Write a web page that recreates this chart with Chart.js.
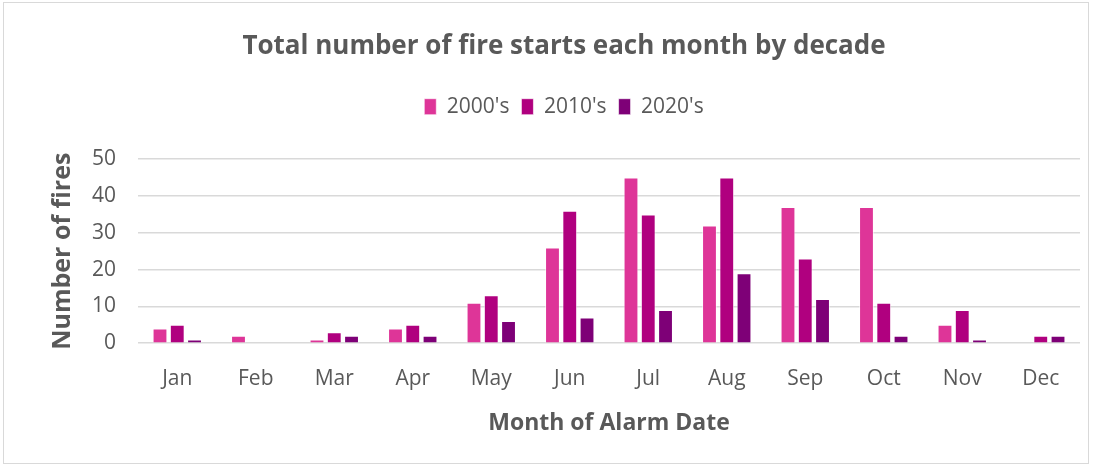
<!DOCTYPE html>
<html>
<head>
<meta charset="utf-8">
<script src="https://cdn.jsdelivr.net/npm/chart.js@4"></script>
<style>
  html, body { margin: 0; padding: 0; background: #fff; }
  #wrap { position: absolute; left: 3px; top: 2px; width: 1086px; height: 462px; border: 1px solid #d9d9d9; box-sizing: border-box; }
  canvas { display: block; }
</style>
</head>
<body>
<div id="wrap"><canvas id="chart-1"></canvas></div>
<script>
const months = ["Jan", "Feb", "Mar", "Apr", "May", "Jun", "Jul", "Aug", "Sep", "Oct", "Nov", "Dec"];
const decades = ["2000's", "2010's", "2020's"];
const fires2000s = [4, 2, 1, 4, 11, 26, 45, 32, 37, 37, 5, 0];
const fires2010s = [5, 0, 3, 5, 13, 36, 35, 45, 23, 11, 9, 2];
const fires2020s = [1, 0, 2, 2, 6, 7, 9, 19, 12, 2, 1, 2];
const yTicks = [0, 10, 20, 30, 40, 50];

const colors = ["#de3598", "#b0007f", "#7e0077"];
const series = [fires2000s, fires2010s, fires2020s];
const textColor = "#595959";
const font = "'Open Sans', sans-serif";

// extra room between legend and plot area
const legendGap = {
  id: "legendGap",
  beforeInit(chart) {
    const fit = chart.legend.fit;
    chart.legend.fit = function () {
      fit.bind(chart.legend)();
      this.height += 32;
    };
  },
};

const ctx1 = document.getElementById("chart-1").getContext("2d");
const myChart1 = new Chart(ctx1, {
  type: "bar",
  data: {
    labels: months,
    datasets: series.map((d, i) => ({
      label: decades[i],
      data: d,
      backgroundColor: colors[i],
      borderColor: "rgba(255,255,255,0.6)",
      borderWidth: 1,
      barPercentage: 0.86,
      categoryPercentage: 0.66,
    })),
  },
  options: {
    responsive: true,
    maintainAspectRatio: false,
    animation: false,
    layout: { padding: { left: 44, right: 8, top: 28, bottom: 22 } },
    plugins: {
      title: {
        display: true,
        text: "Total number of fire starts each month by decade",
        color: textColor,
        font: { family: font, size: 26, weight: "bold" },
        padding: { top: 0, bottom: 22 },
      },
      legend: {
        labels: {
          color: textColor,
          font: { family: font, size: 21 },
          boxWidth: 12,
          boxHeight: 16,
          padding: 12,
        },
      },
      tooltip: { enabled: false },
    },
    scales: {
      x: {
        grid: { display: false },
        border: { display: false },
        ticks: { color: textColor, font: { family: font, size: 21 }, padding: 15 },
        title: {
          display: true,
          text: "Month of Alarm Date",
          color: textColor,
          font: { family: font, size: 23, weight: "bold" },
          padding: { top: 3, bottom: 4 },
        },
      },
      y: {
        min: 0,
        max: 50,
        afterBuildTicks: (axis) => { axis.ticks = yTicks.map((v) => ({ value: v })); },
        grid: { color: "#d9d9d9", lineWidth: 1.5, drawTicks: true, tickColor: "transparent", tickLength: 8 },
        border: { display: false },
        ticks: { color: textColor, font: { family: font, size: 21 }, padding: 14 },
        title: {
          display: true,
          text: "Number of fires",
          color: textColor,
          font: { family: font, size: 25, weight: "bold" },
          padding: { top: 0, bottom: 0 },
        },
      },
    },
  },
  plugins: [legendGap],
});
</script>
</body>
</html>
